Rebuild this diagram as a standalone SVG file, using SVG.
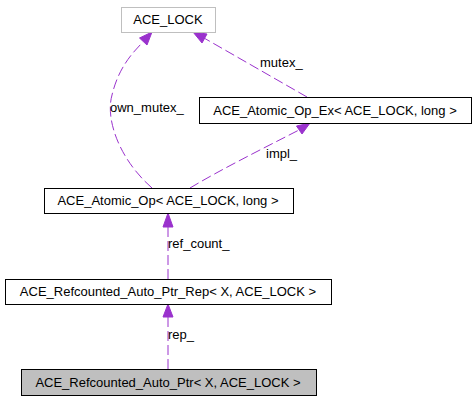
<svg xmlns="http://www.w3.org/2000/svg" width="476" height="400" viewBox="0 0 476 400">
<style>
.box{fill:#ffffff;stroke:#000000;stroke-width:1}
.t{font-family:"Liberation Sans",Arial,sans-serif;font-size:13px;fill:#000000}
.e{fill:none;stroke:#9a32cd;stroke-width:1;stroke-dasharray:10,4}
.ah{fill:#9a32cd;stroke:#9a32cd;stroke-width:1}
.lbl{font-family:"Liberation Sans",Arial,sans-serif;font-size:13px;fill:#000000}
</style>
<rect width="476" height="400" fill="#ffffff"/>
<g id="edges">
<path class="e" d="M168,369 L168,317"/>
<polygon class="ah" points="168,304 163,317 173,317"/>
<text class="lbl" x="168" y="339">rep_</text>
<path class="e" d="M168,279 L168,227"/>
<polygon class="ah" points="168,213 163,227 173,227"/>
<text class="lbl" x="168" y="248">ref_count_</text>
<path class="e" d="M190,188 C220,170 260,150 299,130"/>
<polygon class="ah" points="310,123 302,134 296.5,126"/>
<text class="lbl" x="266" y="158">impl_</text>
<path class="e" d="M152,188 C120,160 105,120 112,95 C118,70 130,55 143,42"/>
<polygon class="ah" points="152,32 147,45 139.5,38"/>
<text class="lbl" x="110" y="112">own_mutex_</text>
<path class="e" d="M307,97 L204,38"/>
<polygon class="ah" points="193,32 207,34 202,43"/>
<text class="lbl" x="260" y="67">mutex_</text>
</g>
<g id="node-lock">
<rect x="121.5" y="7.5" width="94" height="25" fill="#ffffff" stroke="#bfbfbf"/>
<text class="t" x="168" y="24" text-anchor="middle">ACE_LOCK</text>
</g>
<g id="node-atomic-ex">
<rect class="box" x="199.5" y="97.5" width="272" height="26"/>
<text class="t" x="335" y="115" text-anchor="middle">ACE_Atomic_Op_Ex&lt; ACE_LOCK, long &gt;</text>
</g>
<g id="node-atomic">
<rect class="box" x="44.5" y="188.5" width="249" height="25"/>
<text class="t" x="168" y="205" text-anchor="middle">ACE_Atomic_Op&lt; ACE_LOCK, long &gt;</text>
</g>
<g id="node-rep">
<rect class="box" x="5.5" y="279.5" width="326" height="25"/>
<text class="t" x="168" y="296" text-anchor="middle">ACE_Refcounted_Auto_Ptr_Rep&lt; X, ACE_LOCK &gt;</text>
</g>
<g id="node-ptr">
<rect x="21.5" y="369.5" width="295" height="26" fill="#bfbfbf" stroke="#000000"/>
<text class="t" x="168" y="387" text-anchor="middle">ACE_Refcounted_Auto_Ptr&lt; X, ACE_LOCK &gt;</text>
</g>
</svg>
